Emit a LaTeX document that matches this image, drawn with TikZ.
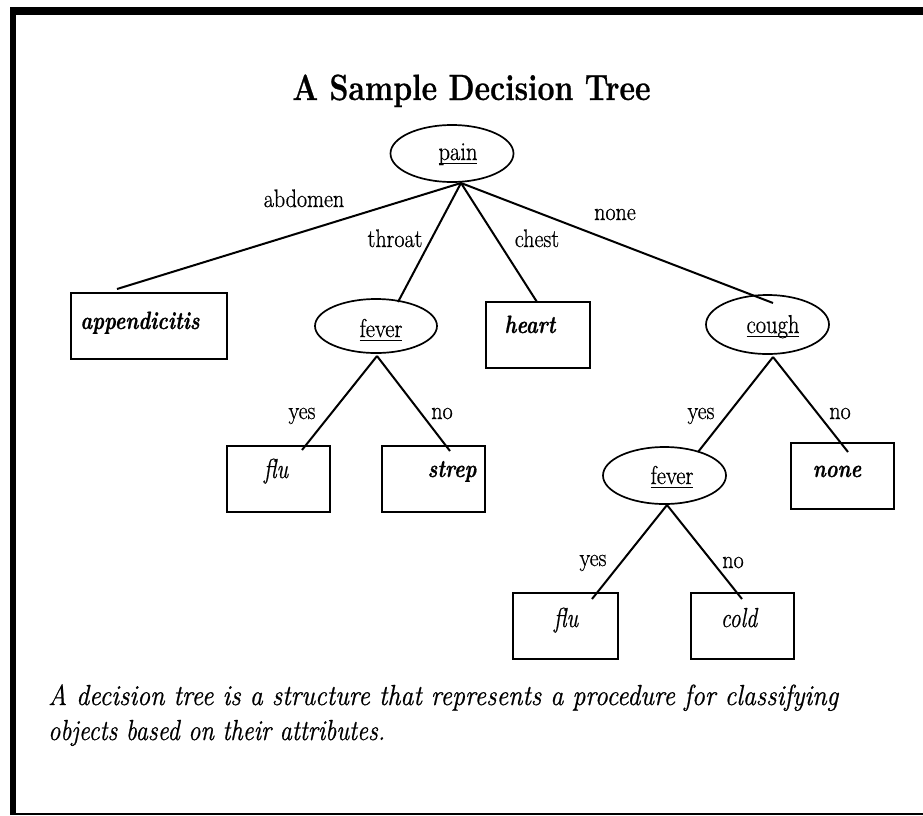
\documentclass[tikz,border=0pt]{standalone}
\usepackage{fontspec}
\setmainfont{Latin Modern Roman}[FakeBold=0.8]
\usepackage{graphicx}
\usetikzlibrary{shapes.geometric}
\newcommand\myul[1]{\setbox0\hbox{#1}\rlap{\rule[-4.2pt]{\wd0}{1.3pt}}\box0}
\newcommand\tallx[1]{\scalebox{1}[1.25]{#1}}
\newcommand\tallish[1]{\scalebox{1}[1.15]{#1}}
\tikzset{
  attr/.style={draw, ellipse, line width=1.7pt, inner sep=0pt, minimum width=123pt, minimum height=57pt},
  attrtext/.style={anchor=base, inner sep=0pt, font=\fontsize{22.5pt}{26pt}\selectfont},
  leafbox/.style={draw, rectangle, line width=1.7pt, inner sep=0pt, minimum width=103pt, minimum height=66pt},
  leaftext/.style={anchor=base, inner sep=0pt, font=\fontsize{20pt}{24pt}\selectfont\bfseries\itshape},
  leaftextlight/.style={anchor=base, inner sep=0pt, font=\fontsize{22pt}{26pt}\selectfont\itshape},
  edge/.style={line width=2pt},
  elabel/.style={anchor=base, inner sep=0pt, font=\fontsize{22pt}{26pt}\selectfont},
  frame/.style={fill=black}
}
\begin{document}
\begin{tikzpicture}[x=1pt,y=-1pt]
\useasboundingbox (0,0) rectangle (923,815);
\fill[white] (0,0) rectangle (923,815);
% frame
\fill[frame] (10,7) rectangle (923,15);
\fill[frame] (10,7) rectangle (16,815);
\fill[frame] (10,813) rectangle (923,815);

% title
\node[anchor=base, inner sep=0pt] (title) at (471.5,100)
  {\resizebox{358pt}{\height}{\fontsize{36.5pt}{40pt}\selectfont\bfseries A Sample Decision Tree}};

% attribute nodes
\node[attr] (pain) at (452,153.5) {};
\node[attrtext] (painlbl) at (458,160) {\myul{\tallish{pain}}};
\node[attr, minimum width=122pt, minimum height=54pt] (fever1) at (376,326) {};
\node[attrtext] (fever1lbl) at (381,337) {\myul{\tallish{fever}}};
\node[attr, minimum height=59pt] (cough) at (767.5,324.5) {};
\node[attrtext] (coughlbl) at (773,333) {\myul{\tallish{cough}}};
\node[attr] (fever2) at (664.5,475.5) {};
\node[attrtext] (fever2lbl) at (672,484) {\myul{\tallish{fever}}};

% leaf boxes
\node[leafbox, minimum width=156pt] (app) at (149,326) {};
\node[leaftext] (applbl) at (140,329) {\tallx{appendicitis}};
\node[leafbox, minimum width=104pt] (heart) at (538,335) {};
\node[leaftext] (heartlbl) at (530,333) {\tallx{heart}};
\node[leafbox] (flua) at (278.5,479) {};
\node[leaftextlight] (flualbl) at (276,478) {\tallx{flu}};
\node[leafbox] (strep) at (433.5,479) {};
\node[leaftext] (streplbl) at (452,477) {\tallx{strep}};
\node[leafbox] (none) at (842.5,476) {};
\node[leaftext] (nonelbl) at (837,477) {\tallx{none}};
\node[leafbox, minimum width=105pt] (flub) at (565.5,626) {};
\node[leaftextlight] (flublbl) at (566,627) {\tallx{flu}};
\node[leafbox] (cold) at (742.5,626) {};
\node[leaftextlight] (coldlbl) at (739,627) {\tallx{cold}};

% connector end points
\coordinate (painv) at (461,183);
\coordinate (fever1v) at (377,356);
\coordinate (coughv) at (773,357);
\coordinate (fever2v) at (667,505);
\coordinate (appin) at (117,289);
\coordinate (fever1in) at (398,302);
\coordinate (heartin) at (537,302);
\coordinate (coughin) at (773,303);
\coordinate (fluain) at (302,450);
\coordinate (strepin) at (450,451);
\coordinate (fever2in) at (698,452);
\coordinate (nonein) at (848,452);
\coordinate (flubin) at (592,599);
\coordinate (coldin) at (742,599);

% connectors
\draw[edge] (painv) -- (appin);
\draw[edge] (painv) -- (fever1in);
\draw[edge] (painv) -- (heartin);
\draw[edge] (painv) -- (coughin);
\draw[edge] (fever1v) -- (fluain);
\draw[edge] (fever1v) -- (strepin);
\draw[edge] (coughv) -- (fever2in);
\draw[edge] (coughv) -- (nonein);
\draw[edge] (fever2v) -- (flubin);
\draw[edge] (fever2v) -- (coldin);

% connector labels
\node[elabel] (labd) at (304,207) {\tallish{abdomen}};
\node[elabel] (lthr) at (395,247) {\tallish{throat}};
\node[elabel] (lche) at (537,247) {\tallish{chest}};
\node[elabel] (lnon) at (615,220) {\tallish{none}};
\node[elabel] (ly1) at (302,419) {\tallish{yes}};
\node[elabel] (ln1) at (442,419) {\tallish{no}};
\node[elabel] (ly2) at (701,419) {\tallish{yes}};
\node[elabel] (ln2) at (840,419) {\tallish{no}};
\node[elabel] (ly3) at (593,566) {\tallish{yes}};
\node[elabel] (ln3) at (733,568) {\tallish{no}};

% caption
\node[anchor=base west, inner sep=0pt] (cap1) at (48,705)
  {\resizebox{790pt}{\height}{\fontsize{29pt}{34pt}\selectfont\itshape A decision tree is a structure that represents a procedure for classifying}};
\node[anchor=base west, inner sep=0pt] (cap2) at (48,740)
  {\resizebox{337pt}{\height}{\fontsize{29pt}{34pt}\selectfont\itshape objects based on their attributes.}};
\end{tikzpicture}
\end{document}
